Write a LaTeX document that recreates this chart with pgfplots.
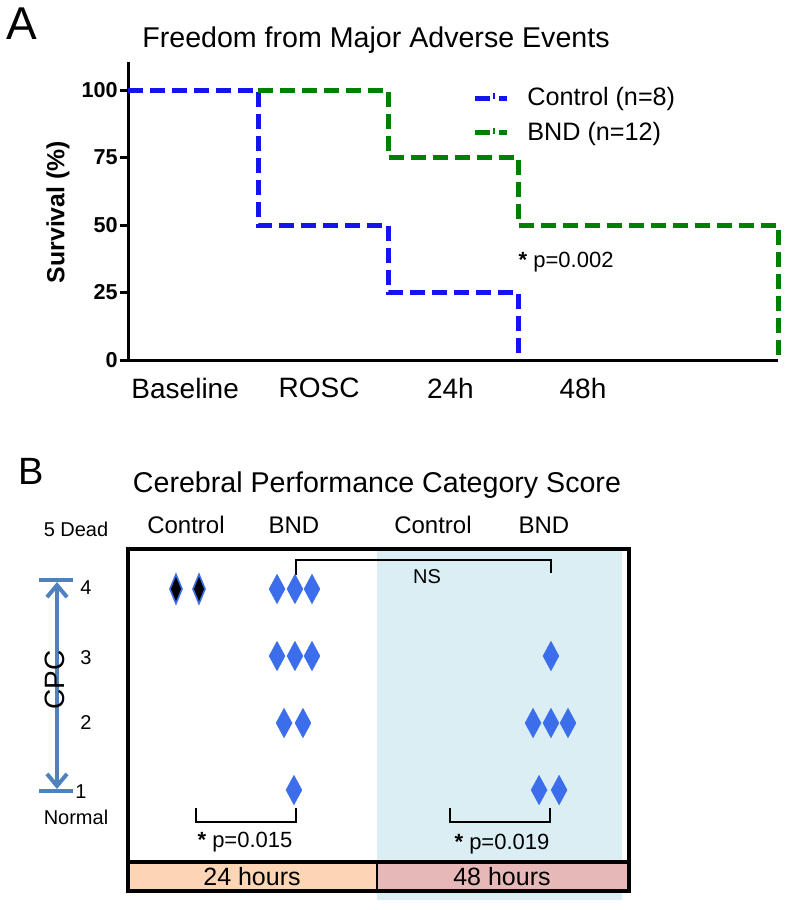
\documentclass[border=0pt]{standalone}
\usepackage{pgfplots}
\pgfplotsset{compat=1.18}
\usepackage{fontspec}
\setmainfont{Liberation Sans}
\usetikzlibrary{arrows.meta}
\definecolor{ctrlblue}{RGB}{20,20,240}
\definecolor{bndgreen}{RGB}{0,128,0}
\definecolor{dblue}{RGB}{60,110,235}
\definecolor{shadeblue}{RGB}{218,238,243}
\definecolor{peach}{RGB}{252,213,180}
\definecolor{pinkb}{RGB}{230,184,183}
\definecolor{cpcblue}{RGB}{79,129,189}
\newcommand{\fs}[1]{\fontsize{#1}{#1}\selectfont}
\begin{document}
\begin{tikzpicture}
\useasboundingbox (0,0) rectangle (400pt,-455pt);
\begin{scope}[x=0.5pt,y=-0.5pt]
\node[font=\fs{23}] at (22,24) {A};
\node[font=\fs{14.3}] at (376,40) {Freedom from Major Adverse Events};
\node[font=\fs{19}] at (31,471) {B};
\node[font=\fs{10}] at (76,529) {5 Dead};
\node[font=\fs{10}] at (86,588) {4};
\node[font=\fs{10}] at (86,658) {3};
\node[font=\fs{10}] at (86,723) {2};
\node[font=\fs{10}] at (81,792) {1};
\node[font=\fs{10}] at (76,817) {Normal};
\draw[cpcblue, line width=2pt, {Straight Barb[length=6pt,width=10pt]}-{Straight Barb[length=6pt,width=10pt]}] (57,582) -- (57,789);
\draw[cpcblue, line width=2pt] (39,580) -- (73,580);
\draw[cpcblue, line width=2pt] (39,791) -- (73,791);
\node[rotate=90, font=\fs{14}] at (55,680) {CPC};
\end{scope}

\begin{axis}[
  at={(64pt,-180pt)}, anchor=south west, scale only axis,
  width=325pt, height=149pt,
  xmin=0, xmax=5, ymin=0, ymax=110.4,
  axis lines=left, axis line style={-, line width=1.5pt},
  clip=false,
  ytick={0,25,50,75,100},
  /pgf/number format/assume math mode=true,
  yticklabel style={font=\fs{10.8}\bfseries, inner sep=1pt},
  ytick style={line width=1.5pt, black},
  major tick length=4pt, tick align=outside,
  xtick={0.44,1.47,2.48,3.5}, xticklabels={Baseline,ROSC,24h,48h},
  xticklabel style={font=\fs{14}, yshift=-1.5pt},
  xtick style={draw=none},
  legend cell align=left,
  legend style={at={(axis cs:2.6,104)}, anchor=north west, draw=none, fill=none,
    font=\fs{12.6}, row sep=2.5pt},
  legend image code/.code={
    \draw[#1, solid, line width=2.5pt] (0pt,0pt) -- (7.5pt,0pt);
    \draw[#1, solid, line width=1pt] (9.5pt,-0.5pt) -- (9.5pt,2.5pt);
    \draw[#1, solid, line width=2.5pt] (12pt,0pt) -- (16pt,0pt);
    \path (23pt,0pt);
  },
]
\addplot[ctrlblue, line width=2.5pt, line cap=butt, dash pattern=on 7.5pt off 3.5pt]
  coordinates {(0,100)(1,100)(1,50)(2,50)(2,25)(3,25)(3,0)};
\addlegendentry{Control (n=8)}
\addplot[bndgreen, line width=2.5pt, line cap=butt, dash pattern=on 7.5pt off 3.5pt]
  coordinates {(1,100)(2,100)(2,75)(3,75)(3,50)(5,50)(5,0)};
\addlegendentry{BND (n=12)}
\node[font=\fs{11}] at (axis cs:3.37,36.3) {{\bfseries *} p=0.002};
\node[rotate=90, font=\fs{12.4}\bfseries] at (axis cs:-0.538,54.8) {Survival (\%)};
\end{axis}

\begin{axis}[
  at={(64pt,-445.5pt)}, anchor=south west, scale only axis,
  width=250.5pt, height=171pt,
  xmin=0, xmax=4, ymin=-0.507, ymax=4.597,
  axis lines=none, clip=false,
]
\fill[shadeblue] (axis cs:1.99,4.597) rectangle (axis cs:3.944,-0.642);
\fill[peach] (axis cs:0,-0.075) rectangle (axis cs:1.988,-0.507);
\fill[pinkb] (axis cs:1.988,-0.075) rectangle (axis cs:4,-0.507);
\draw[line width=1.2pt] (axis cs:1.341,4.209) |- (axis cs:3.377,4.433) -- (axis cs:3.377,4.239);
\draw[line width=1.2pt] (axis cs:0.543,0.731) |- (axis cs:1.341,0.522) -- (axis cs:1.341,0.731);
\draw[line width=1.2pt] (axis cs:2.571,0.731) |- (axis cs:3.369,0.522) -- (axis cs:3.369,0.731);
% Control 24h
\addplot[only marks, mark=diamond*, mark size=7.3pt,
  mark options={fill=black, draw=dblue, line width=0.8pt, xscale=0.55}]
  coordinates {(0.383,4)(0.567,4)};
% BND 24h
\addplot[only marks, mark=diamond*, mark size=7.3pt,
  mark options={fill=dblue, draw=dblue, line width=0.3pt, xscale=0.72}]
  coordinates {(1.190,4)(1.333,4)(1.469,4)
               (1.190,3)(1.333,3)(1.469,3)
               (1.246,2)(1.397,2)
               (1.325,1)};
% BND 48h
\addplot[only marks, mark=diamond*, mark size=7.3pt,
  mark options={fill=dblue, draw=dblue, line width=0.3pt, xscale=0.72}]
  coordinates {(3.377,3)
               (3.234,2)(3.377,2)(3.513,2)
               (3.282,1)(3.442,1)};
\draw[line width=1.6pt] (axis cs:0,-0.507) rectangle (axis cs:4,4.597);
\draw[line width=1.6pt] (axis cs:0,-0.075) -- (axis cs:4,-0.075);
\draw[line width=2.2pt] (axis cs:0,-0.507) -- (axis cs:4,-0.507);
\draw[line width=1.1pt] (axis cs:1.988,-0.075) -- (axis cs:1.988,-0.507);
\node[font=\fs{10}] at (axis cs:2.387,4.179) {NS};
\node[font=\fs{11}] at (axis cs:0.934,0.224) {{\bfseries *} p=0.015};
\node[font=\fs{11}] at (axis cs:2.986,0.194) {{\bfseries *} p=0.019};
\node[font=\fs{12.5}] at (axis cs:0.99,-0.284) {24 hours};
\node[font=\fs{12.5}] at (axis cs:2.986,-0.284) {48 hours};
\node[font=\fs{12}] at (axis cs:0.463,4.955) {Control};
\node[font=\fs{12}] at (axis cs:1.325,4.955) {BND};
\node[font=\fs{12}] at (axis cs:2.435,4.955) {Control};
\node[font=\fs{12}] at (axis cs:3.321,4.955) {BND};
\node[font=\fs{14.3}] at (axis cs:1.988,5.552) {Cerebral Performance Category Score};
\end{axis}
\end{tikzpicture}
\end{document}
